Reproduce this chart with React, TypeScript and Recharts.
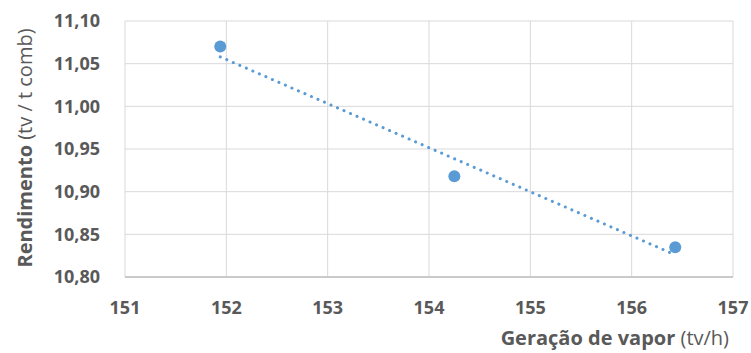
import React from 'react'
import { ComposedChart, Scatter, XAxis, YAxis, CartesianGrid } from 'recharts'

const steamGen = [151.94, 154.25, 156.43]
const yieldValues = [11.07, 10.918, 10.835]

const trendX = [151.94, 156.43]
const trendY = [11.058, 10.826]

const xTicks = [151, 152, 153, 154, 155, 156, 157]
const yTicks = [10.8, 10.85, 10.9, 10.95, 11.0, 11.05, 11.1]

const points = steamGen.map((x, i) => ({ x, y: yieldValues[i] }))
const trend = trendX.map((x, i) => ({ x, y: trendY[i] }))

const blue = '#5b9bd5'
const grey = '#595959'
const font = '"Open Sans", sans-serif'

const fmt = (v: number) => v.toFixed(2).replace('.', ',')

const YTitle = () => (
  <text
    x={0}
    y={0}
    transform="translate(32,148) rotate(-90)"
    textAnchor="middle"
    fontFamily={font}
    fontSize={20}
    fill={grey}
  >
    <tspan fontWeight="bold">Rendimento</tspan>
    <tspan> (tv / t comb)</tspan>
  </text>
)

const XTitle = () => (
  <text x={729} y={345} textAnchor="end" fontFamily={font} fontSize={20} fill={grey}>
    <tspan fontWeight="bold">Geração de vapor</tspan>
    <tspan> (tv/h)</tspan>
  </text>
)

const Dot = (props: any) => <circle cx={props.cx} cy={props.cy} r={6} fill={blue} />

export default function App() {
  return (
    <div>
      <style>{'body{margin:0;background:#fff}'}</style>
      <ComposedChart width={751} height={353} margin={{ top: 21, right: 18, bottom: 0, left: 0 }}>
        <CartesianGrid stroke="#d9d9d9" />
        <XAxis
          type="number"
          dataKey="x"
          domain={[151, 157]}
          ticks={xTicks}
          height={76}
          axisLine={{ stroke: '#bfbfbf', strokeWidth: 1.5 }}
          tickLine={false}
          tickSize={0}
          tickMargin={24}
          tick={{ fill: grey, fontSize: 18, fontWeight: 'bold', fontFamily: font }}
          label={{ content: () => <XTitle /> }}
        />
        <YAxis
          type="number"
          dataKey="y"
          domain={[10.8, 11.1]}
          ticks={yTicks}
          width={125}
          axisLine={false}
          tickLine={false}
          tickSize={0}
          tickMargin={25}
          tickFormatter={fmt}
          tick={{ fill: grey, fontSize: 18, fontWeight: 'bold', fontFamily: font }}
          label={{ content: () => <YTitle /> }}
        />
        <Scatter
          data={trend}
          line={{ stroke: blue, strokeWidth: 3, strokeDasharray: '0.1 7', strokeLinecap: 'round' }}
          shape={() => null}
          isAnimationActive={false}
        />
        <Scatter data={points} shape={<Dot />} isAnimationActive={false} />
      </ComposedChart>
    </div>
  )
}
